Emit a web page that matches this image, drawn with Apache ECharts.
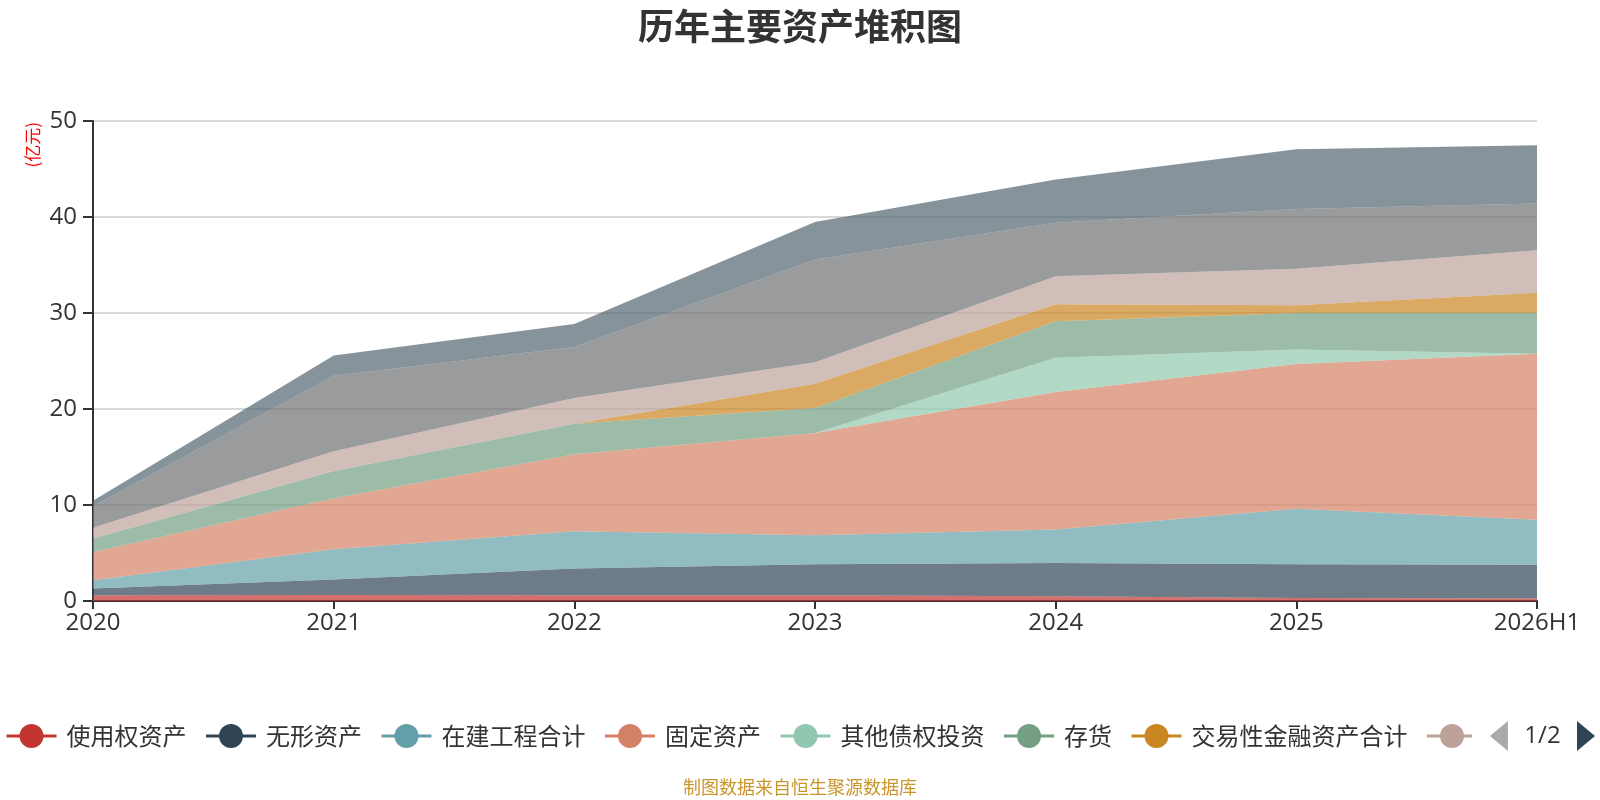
<!DOCTYPE html>
<html>
<head>
<meta charset="utf-8">
<title>历年主要资产堆积图</title>
<script src="https://cdn.jsdelivr.net/npm/echarts@6/dist/echarts.min.js"></script>
<style>
  html, body { margin: 0; padding: 0; background: #fff; }
  #main { width: 1600px; height: 800px; }
</style>
</head>
<body>
<div id="main"></div>
<script>
'use strict'

// 年份
var years = ['2020', '2021', '2022', '2023', '2024', '2025', '2026H1']

// 各项资产（亿元），自下而上堆积
var shiyongquan = [0.6, 0.63, 0.6, 0.6, 0.5, 0.3, 0.25]
var wuxing = [0.69, 1.61, 2.79, 3.22, 3.46, 3.52, 3.53]
var zaijian = [0.88, 3.14, 3.88, 3.02, 3.49, 5.8, 4.69]
var guding = [2.93, 5.32, 8.01, 10.66, 14.32, 15.08, 17.29]
var qitazhaiquan = [0, 0, 0, 0, 3.58, 1.5, 0]
var cunhuo = [1.4, 2.83, 3.18, 2.6, 3.78, 3.8, 4.24]
var jiaoyixing = [0, 0, 0, 2.54, 1.79, 0.8, 2.1]
var yingshou = [1.12, 2.07, 2.69, 2.22, 2.91, 3.8, 4.43]
var huobi = [2.24, 7.86, 5.32, 10.7, 5.57, 6.23, 4.87]
var qita = [0.59, 2.1, 2.38, 3.92, 4.5, 6.22, 6.07]

var names = ['使用权资产', '无形资产', '在建工程合计', '固定资产', '其他债权投资', '存货',
  '交易性金融资产合计', '应收票据及应收账款', '货币资金', '其他资产']
var values = [shiyongquan, wuxing, zaijian, guding, qitazhaiquan, cunhuo,
  jiaoyixing, yingshou, huobi, qita]

var colors = ['#c23531', '#2f4554', '#61a0a8', '#d48265', '#91c7ae', '#749f83',
  '#ca8622', '#bda29a', '#6e7074', '#546570', '#c4ccd3']

var font = '"Open Sans", "Noto Sans CJK SC", sans-serif'
var cjk = '"Noto Sans CJK SC", sans-serif'

var series = names.map(function (name, i) {
  return {
    name: name,
    type: 'line',
    stack: 'total',
    data: values[i],
    symbol: 'circle',
    showSymbol: false,
    lineStyle: { width: 0 },
    areaStyle: { opacity: 0.7 }
  }
})

var myChart = echarts.init(document.getElementById('main'))

myChart.setOption({
  color: colors,
  animation: false,
  textStyle: { fontFamily: font },
  title: [{
    text: '历年主要资产堆积图',
    left: 'center',
    top: 3,
    textStyle: { fontSize: 36, fontWeight: 'bold', color: '#333', fontFamily: cjk }
  }, {
    text: '制图数据来自恒生聚源数据库',
    left: 'center',
    top: 778,
    padding: 0,
    textStyle: { fontSize: 18, fontWeight: 'normal', color: '#c8962a', fontFamily: cjk }
  }],
  graphic: [{
    type: 'text',
    left: 24,
    top: 122,
    rotation: Math.PI / 2,
    style: { text: '(亿元)', fill: '#ff0000', fontSize: 17, fontFamily: cjk }
  }],
  legend: {
    type: 'scroll',
    left: 0,
    right: 8,
    top: 716,
    itemWidth: 50,
    itemHeight: 30,
    itemGap: 18,
    lineStyle: { width: 3 },
    textStyle: { fontSize: 24, color: '#333', fontFamily: cjk, padding: [0, 0, 0, 5] },
    pageIconColor: '#2f4554',
    pageIconInactiveColor: '#aaa',
    pageIconSize: [18, 32],
    pageTextStyle: { fontSize: 24, color: '#333' },
    data: names
  },
  grid: { left: 93, right: 63, top: 121, bottom: 199 },
  xAxis: {
    type: 'category',
    boundaryGap: false,
    data: years,
    axisLine: { lineStyle: { color: '#333', width: 2 } },
    axisTick: { length: 8, lineStyle: { width: 2 } },
    axisLabel: { fontSize: 24, color: '#333', margin: 10 }
  },
  yAxis: {
    type: 'value',
    min: 0,
    max: 50,
    interval: 10,
    axisLine: { show: true, lineStyle: { color: '#333', width: 2 } },
    axisTick: { show: true, length: 10, lineStyle: { width: 2 } },
    axisLabel: { fontSize: 24, color: '#333', margin: 16 },
    splitLine: { lineStyle: { color: '#ccc', width: 1.5 } }
  },
  series: series
})
</script>
</body>
</html>
